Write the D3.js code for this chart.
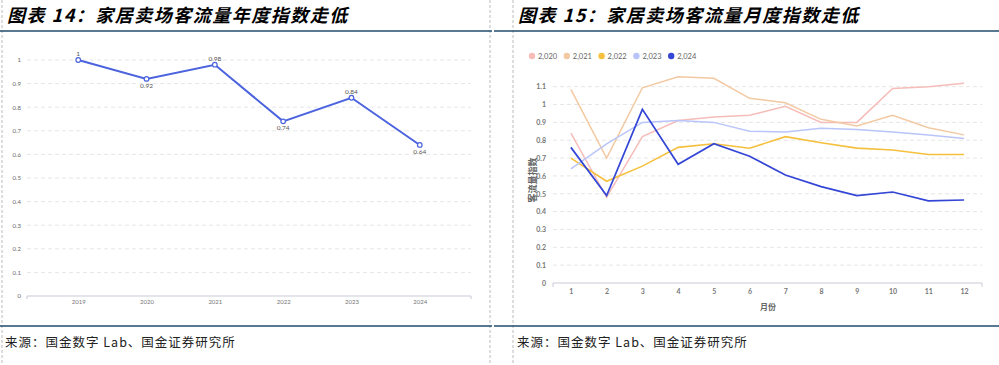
<!DOCTYPE html>
<html>
<head>
<meta charset="utf-8">
<script src="https://cdn.jsdelivr.net/npm/d3@7/dist/d3.min.js"></script>
<style>
  body { margin: 0; background: #fff; }
  svg { display: block; }
</style>
</head>
<body>
<div id="plot_area"></div>
<script>
// canvas size
const w = 999;
const h = 365;

// left chart data: yearly index
const years = ['2019', '2020', '2021', '2022', '2023', '2024'];
const yearIndex = [1, 0.92, 0.98, 0.74, 0.84, 0.64];
const yearLabelPos = ['top', 'bottom', 'top', 'bottom', 'top', 'bottom'];
const leftTicks = [0, 0.1, 0.2, 0.3, 0.4, 0.5, 0.6, 0.7, 0.8, 0.9, 1];

// right chart data: monthly index per year
const months = [1, 2, 3, 4, 5, 6, 7, 8, 9, 10, 11, 12];
const seriesNames = ['2,020', '2,021', '2,022', '2,023', '2,024'];
const s2020 = [0.84, 0.48, 0.82, 0.91, 0.93, 0.94, 0.99, 0.90, 0.90, 1.09, 1.10, 1.12];
const s2021 = [1.085, 0.70, 1.094, 1.156, 1.147, 1.035, 1.01, 0.917, 0.88, 0.94, 0.87, 0.83];
const s2022 = [0.70, 0.57, 0.655, 0.76, 0.78, 0.755, 0.82, 0.786, 0.756, 0.745, 0.72, 0.72];
const s2023 = [0.64, 0.78, 0.90, 0.91, 0.90, 0.85, 0.846, 0.867, 0.86, 0.846, 0.83, 0.81];
const s2024 = [0.76, 0.49, 0.973, 0.665, 0.78, 0.71, 0.605, 0.54, 0.49, 0.51, 0.46, 0.465];
const rightTicks = [0, 0.1, 0.2, 0.3, 0.4, 0.5, 0.6, 0.7, 0.8, 0.9, 1, 1.1];

const seriesColors = ['#f5bcb8', '#f2c9a2', '#f5c03e', '#b9c5fa', '#3346d6'];
const seriesWidths = [1.5, 1.5, 1.6, 1.5, 1.7];
const monthly = [s2020, s2021, s2022, s2023, s2024];

const cjk = '"Noto Sans CJK SC", "Noto Sans", sans-serif';
const latin = 'Lato, "Noto Sans", sans-serif';

const svg = d3.select('#plot_area')
  .append('svg')
  .attr('width', w)
  .attr('height', h);

// panel frames (dashed separators)
[2, 490, 513].forEach(function (x) {
  svg.append('line')
    .attr('x1', x).attr('x2', x)
    .attr('y1', 0).attr('y2', h)
    .attr('stroke', '#bbb')
    .attr('stroke-dasharray', '3,2');
});

// title and footer rules
[[0, 492], [494, 999]].forEach(function (r) {
  svg.append('line')
    .attr('x1', r[0]).attr('x2', r[1])
    .attr('y1', 31).attr('y2', 31)
    .attr('stroke', '#1f4e6e').attr('stroke-width', 1.5);
  svg.append('line')
    .attr('x1', r[0]).attr('x2', r[1])
    .attr('y1', 326).attr('y2', 326)
    .attr('stroke', '#1f4e6e').attr('stroke-width', 1.5);
});

// titles
svg.append('text')
  .attr('x', 7).attr('y', 22)
  .style('font-family', cjk).style('font-size', '18px')
  .style('font-weight', 'bold').style('font-style', 'italic')
  .style('letter-spacing', '1.5px')
  .text('图表 14：家居卖场客流量年度指数走低');
svg.append('text')
  .attr('x', 518).attr('y', 22)
  .style('font-family', cjk).style('font-size', '18px')
  .style('font-weight', 'bold').style('font-style', 'italic')
  .style('letter-spacing', '1.5px')
  .text('图表 15：家居卖场客流量月度指数走低');

// footers
[5, 517].forEach(function (x) {
  svg.append('text')
    .attr('x', x).attr('y', 347)
    .style('font-family', cjk).style('font-size', '12.5px')
    .style('letter-spacing', '1px')
    .attr('fill', '#222')
    .text('来源：国金数字 Lab、国金证券研究所');
});

// ---------- left chart ----------
const xL = d3.scalePoint().domain(years).range([27, 471]).padding(0.75);
const yL = d3.scaleLinear().domain([0, 1]).range([296, 60]);

svg.append('g')
  .selectAll('line')
  .data(leftTicks.slice(1))
  .join('line')
  .attr('x1', 27).attr('x2', 471)
  .attr('y1', (d) => yL(d)).attr('y2', (d) => yL(d))
  .attr('stroke', '#e6e6e6')
  .attr('stroke-dasharray', '4,3');

const axL = svg.append('g')
  .attr('transform', 'translate(0,296)')
  .call(d3.axisBottom(xL).tickSize(0).tickPadding(4));
axL.select('.domain').attr('stroke', '#c8cbd8').attr('d', 'M27,3V0H471V3');
axL.selectAll('text').style('font-family', latin).style('font-size', '6px').attr('fill', '#777');

const ayL = svg.append('g')
  .attr('transform', 'translate(27,0)')
  .call(d3.axisLeft(yL).tickValues(leftTicks).tickSize(0).tickPadding(6).tickFormat(d3.format('')));
ayL.select('.domain').remove();
ayL.selectAll('text').style('font-family', latin).style('font-size', '6px').attr('fill', '#666');

const yearData = years.map((y, i) => ({ year: y, v: yearIndex[i], pos: yearLabelPos[i] }));

svg.append('path')
  .datum(yearData)
  .attr('fill', 'none')
  .attr('stroke', '#4b63de')
  .attr('stroke-width', 2)
  .attr('d', d3.line().x((d) => xL(d.year)).y((d) => yL(d.v)));

svg.append('g')
  .selectAll('circle')
  .data(yearData)
  .join('circle')
  .attr('cx', (d) => xL(d.year)).attr('cy', (d) => yL(d.v))
  .attr('r', 2.3)
  .attr('fill', '#fff')
  .attr('stroke', '#4b63de')
  .attr('stroke-width', 1.2);

svg.append('g')
  .selectAll('text')
  .data(yearData)
  .join('text')
  .attr('x', (d) => xL(d.year))
  .attr('y', (d) => d.pos === 'top' ? yL(d.v) - 4 : yL(d.v) + 9)
  .attr('text-anchor', 'middle')
  .style('font-family', latin).style('font-size', '6.5px')
  .attr('fill', '#555')
  .text((d) => d3.format('')(d.v));

// ---------- right chart ----------
const xR = d3.scalePoint().domain(months).range([553, 982]).padding(0.5);
const yR = d3.scaleLinear().domain([0, 1.1]).range([283, 86.7]);

svg.append('g')
  .selectAll('line')
  .data(rightTicks.slice(1))
  .join('line')
  .attr('x1', 553).attr('x2', 982)
  .attr('y1', (d) => yR(d)).attr('y2', (d) => yR(d))
  .attr('stroke', '#e6e6e6')
  .attr('stroke-dasharray', '4,3');

const axR = svg.append('g')
  .attr('transform', 'translate(0,283)')
  .call(d3.axisBottom(xR).tickSize(0).tickPadding(6));
axR.select('.domain').attr('stroke', '#c8cbd8').attr('d', 'M553,4V0H982V4');
axR.selectAll('text').style('font-family', latin).style('font-size', '7px')
  .style('font-weight', 'bold').attr('fill', '#777');

const ayR = svg.append('g')
  .attr('transform', 'translate(553,0)')
  .call(d3.axisLeft(yR).tickValues(rightTicks).tickSize(0).tickPadding(7).tickFormat(d3.format('')));
ayR.select('.domain').remove();
ayR.selectAll('text').style('font-family', latin).style('font-size', '7px')
  .style('font-weight', 'bold').attr('fill', '#777');

// axis titles
svg.append('text')
  .attr('transform', 'translate(536,180) rotate(-90)')
  .attr('text-anchor', 'middle')
  .style('font-family', cjk).style('font-size', '9px').style('font-weight', 'bold')
  .attr('fill', '#666')
  .text('客流量指数');
svg.append('text')
  .attr('x', 768).attr('y', 310)
  .attr('text-anchor', 'middle')
  .style('font-family', cjk).style('font-size', '8px').style('font-weight', 'bold')
  .attr('fill', '#666')
  .text('月份');

// lines
const lineR = d3.line().x((d, i) => xR(months[i])).y((d) => yR(d));
svg.append('g')
  .selectAll('path')
  .data(monthly)
  .join('path')
  .attr('fill', 'none')
  .attr('stroke', (d, i) => seriesColors[i])
  .attr('stroke-width', (d, i) => seriesWidths[i])
  .attr('d', lineR);

// legend
const legend = svg.append('g')
  .selectAll('g')
  .data(seriesNames)
  .join('g')
  .attr('transform', (d, i) => 'translate(' + (532 + i * 34.8) + ',56)');
legend.append('circle')
  .attr('r', 3.2)
  .attr('fill', (d, i) => seriesColors[i]);
legend.append('text')
  .attr('x', 6).attr('y', 2.6)
  .style('font-family', latin).style('font-size', '7.5px')
  .attr('fill', '#666')
  .text((d) => d);
</script>
</body>
</html>
